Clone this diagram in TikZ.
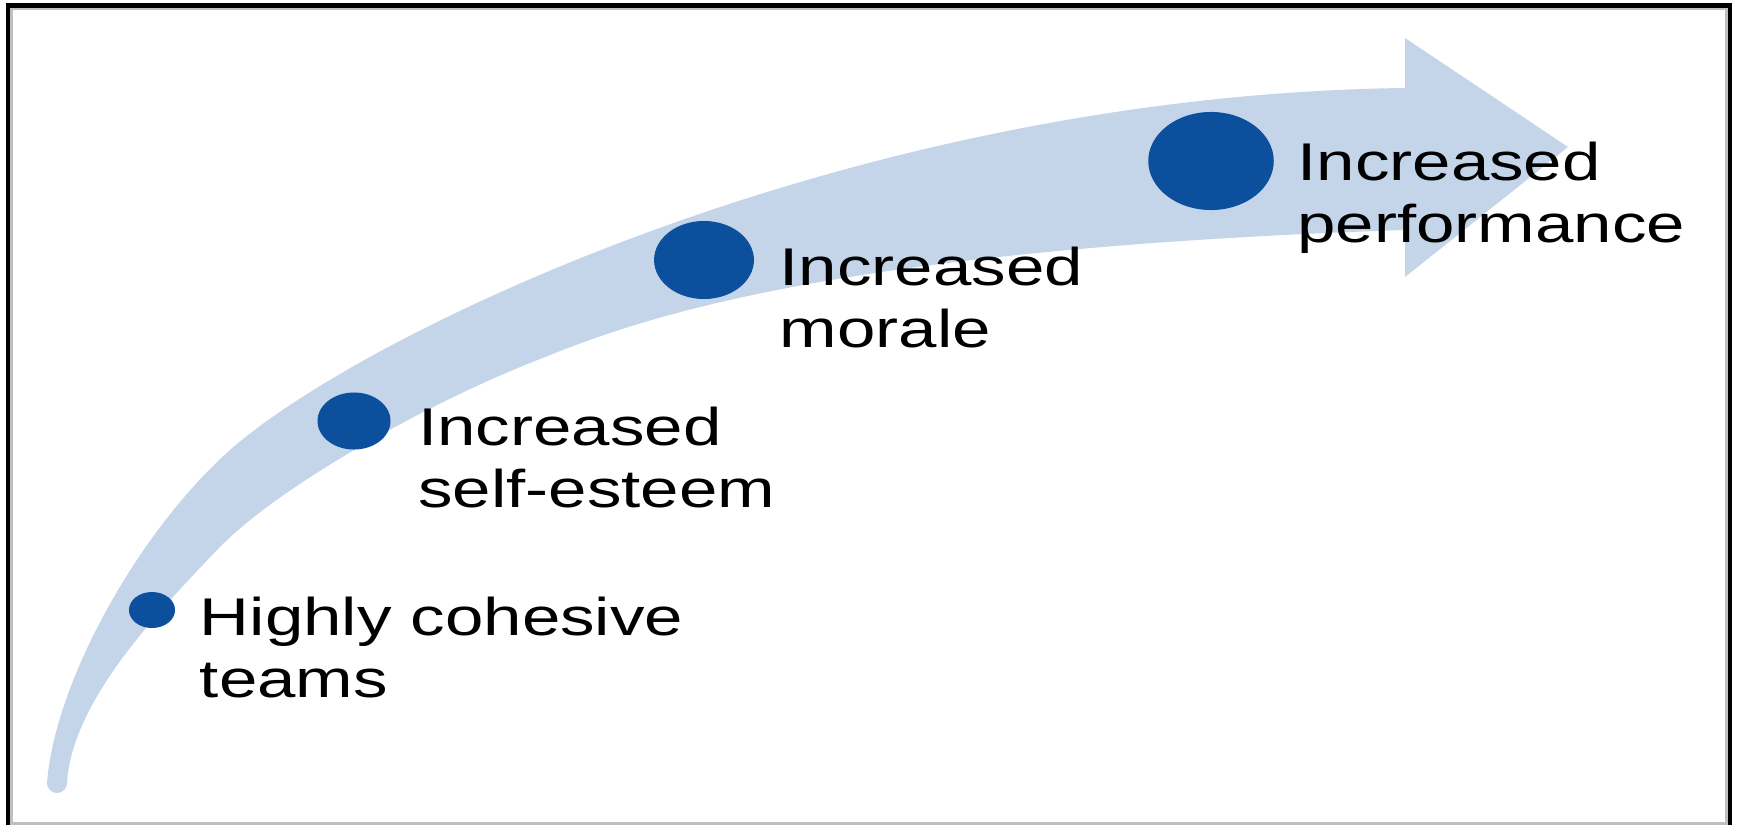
\documentclass[tikz,border=0pt]{standalone}
\usepackage{fontspec}
\setmainfont{Liberation Sans}
\usepackage{tikz}
\usetikzlibrary{positioning}
\definecolor{bandblue}{RGB}{196, 213, 234}
\definecolor{dotblue}{RGB}{11, 79, 157}
\definecolor{framegrey}{RGB}{192, 192, 192}

\begin{document}
\begin{tikzpicture}[
    x=0.01cm, y=-0.01cm,
    band/.style={fill=bandblue},
    dot/.style={circle, fill=dotblue, inner sep=0pt, xscale=1.28},
    stagetext/.style={align=left, inner sep=0pt, xscale=1.3, font=\fontsize{15.1}{17.6}\selectfont}
]
    \useasboundingbox (0,0) rectangle (1740,824);
    \clip (0,0) rectangle (1740,824);

    % Frame
    \draw [framegrey, line width=0.03cm] (11.5,830) -- (11.5,8.5) -- (1726.5,8.5) -- (1726.5,830);
    \draw [framegrey, line width=0.03cm] (11.5,823) -- (1726.5,823);
    \draw [black, line width=0.04cm] (8,830) -- (8,5.5) -- (1730,5.5) -- (1730,830);

    % Curved arrow
    \fill [band] (47,783) .. controls (55,680) and (140,530) .. (230,450)
        .. controls (360,335) and (850,95) .. (1405,88)
        -- (1405,38) -- (1568,147) -- (1405,277) -- (1405,230)
        .. controls (800,250) and (620,327) .. (530,363)
        .. controls (420,407) and (275,489) .. (217,550)
        .. controls (160,610) and (72,700) .. (67,783) -- cycle;
    \fill [band] (57,783) circle [radius=0.1cm];

    \node [dot, minimum size=0.36cm] (d1) at (152,610) {};
    \node [dot, minimum size=0.57cm] (d2) at (354,421) {};
    \node [dot, minimum size=0.78cm] (d3) at (704,260) {};
    \node [dot, minimum size=0.98cm] (d4) at (1211,161) {};

    \node [stagetext, right=0.23cm of d1.east, anchor=north west, yshift=0.14cm] (t1) {Highly cohesive\\teams};
    \node [stagetext, right=0.26cm of d2.east, anchor=north west, yshift=0.15cm] (t2) {Increased\\self-esteem};
    \node [stagetext, right=0.24cm of d3.east, anchor=north west, yshift=0.14cm] (t3) {Increased\\morale};
    \node [stagetext, right=0.22cm of d4.east, anchor=north west, yshift=0.2cm] (t4) {Increased\\performance};

\end{tikzpicture}
\end{document}
